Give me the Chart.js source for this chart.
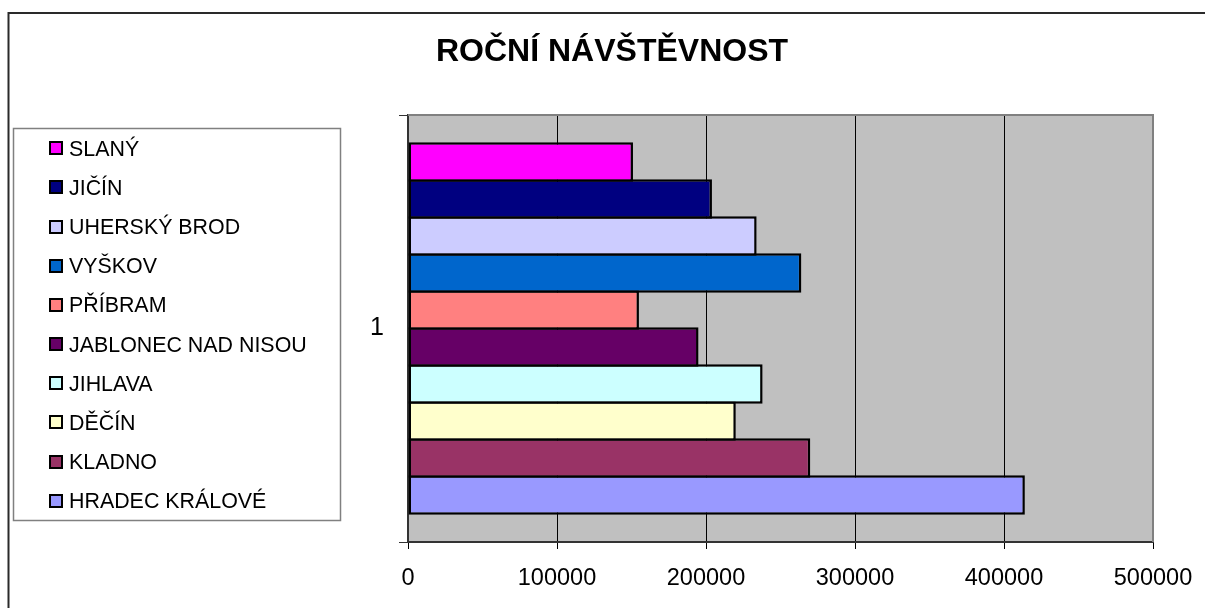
<!DOCTYPE html>
<html><head><meta charset="utf-8">
<script src="https://cdn.jsdelivr.net/npm/chart.js@4"></script>
<style>html,body{margin:0;padding:0;background:#fff}canvas{display:block}</style>
</head><body>
<canvas id="c" width="1205" height="608"></canvas>
<script>
const chartTitle = 'ROČNÍ NÁVŠTĚVNOST';
const categories = ['1'];
const cities = ['SLANÝ','JIČÍN','UHERSKÝ BROD','VYŠKOV','PŘÍBRAM','JABLONEC NAD NISOU','JIHLAVA','DĚČÍN','KLADNO','HRADEC KRÁLOVÉ'];
const visitors = [151000,204000,234000,264000,155000,195000,238000,220000,270000,414000];
const colors = ['#FF00FF','#000080','#CCCCFF','#0066CC','#FF8080','#660066','#CCFFFF','#FFFFCC','#993366','#9999FF'];
const xMin = 0, xMax = 500000, xStep = 100000;

const FONT = '"Liberation Sans", Arial, sans-serif';

const datasets = cities.map((name, i) => ({
  label: name,
  data: [visitors[i]],
  backgroundColor: colors[i],
  borderColor: '#000',
  borderWidth: 2.5,
  borderSkipped: false,
  inflateAmount: 0,
  barPercentage: 39.5/37,
  categoryPercentage: 370/427
}));

const decor = {
  id: 'decor',
  beforeDraw(chart) {
    const {ctx, chartArea: a} = chart;
    ctx.save();
    ctx.fillStyle = '#C0C0C0';
    ctx.fillRect(a.left, a.top, a.right - a.left, a.bottom - a.top);
    ctx.restore();
  },
  afterDraw(chart) {
    const {ctx, chartArea: a} = chart;
    ctx.save();
    // plot area top/right border
    ctx.strokeStyle = '#808080';
    ctx.lineWidth = 2;
    ctx.beginPath();
    ctx.moveTo(a.left, a.top);
    ctx.lineTo(a.right, a.top);
    ctx.lineTo(a.right, a.bottom);
    ctx.stroke();
    // outer frame
    ctx.strokeStyle = '#2a2a2a';
    ctx.lineWidth = 2;
    ctx.strokeRect(8.5, 13, 1400, 800);
    // title
    ctx.fillStyle = '#000';
    ctx.font = 'bold 32px ' + FONT;
    ctx.textAlign = 'center';
    ctx.textBaseline = 'alphabetic';
    ctx.fillText(chartTitle, 612, 61);
    // legend box
    ctx.strokeStyle = '#808080';
    ctx.lineWidth = 1.5;
    ctx.strokeRect(13.5, 128.5, 327, 392);
    ctx.font = '21.4px ' + FONT;
    ctx.textAlign = 'left';
    chart.data.datasets.forEach((ds, i) => {
      const cy = 148.3 + i * 39.15;
      const top = Math.round(cy - 7);
      ctx.fillStyle = '#000';
      ctx.fillRect(49, top, 14, 14);
      ctx.fillStyle = ds.backgroundColor;
      ctx.fillRect(51, top + 2, 10, 10);
      ctx.fillStyle = '#000';
      ctx.fillText(ds.label, 69, cy + 7.5);
    });
    ctx.restore();
  }
};

new Chart(document.getElementById('c'), {
  type: 'bar',
  data: { labels: categories, datasets },
  options: {
    responsive: false,
    animation: false,
    indexAxis: 'y',
    layout: { padding: { left: 0, top: 115, right: 52, bottom: 0 } },
    plugins: { legend: { display: false }, title: { display: false }, tooltip: { enabled: false } },
    scales: {
      x: {
        type: 'linear',
        min: xMin, max: xMax,
        ticks: {
          stepSize: xStep, color: '#000', font: { family: FONT, size: 23.5 }, padding: 15, maxRotation: 0,
          callback: (v) => String(v)
        },
        grid: { color: '#000', lineWidth: 1, tickLength: 7, tickColor: '#000' },
        border: { color: '#333', width: 2 },
        afterFit(s) { s.height = 66; s.paddingLeft = 0; s.paddingRight = 0; }
      },
      y: {
        type: 'category',
        offset: true,
        ticks: { color: '#000', font: { family: FONT, size: 25 }, padding: 15 },
        grid: { offset: true, drawOnChartArea: false, color: '#333', tickLength: 9 },
        border: { color: '#333', width: 2 },
        afterFit(s) { s.width = 408; s.paddingTop = 0; s.paddingBottom = 0; }
      }
    }
  },
  plugins: [decor]
});
</script>
</body></html>
